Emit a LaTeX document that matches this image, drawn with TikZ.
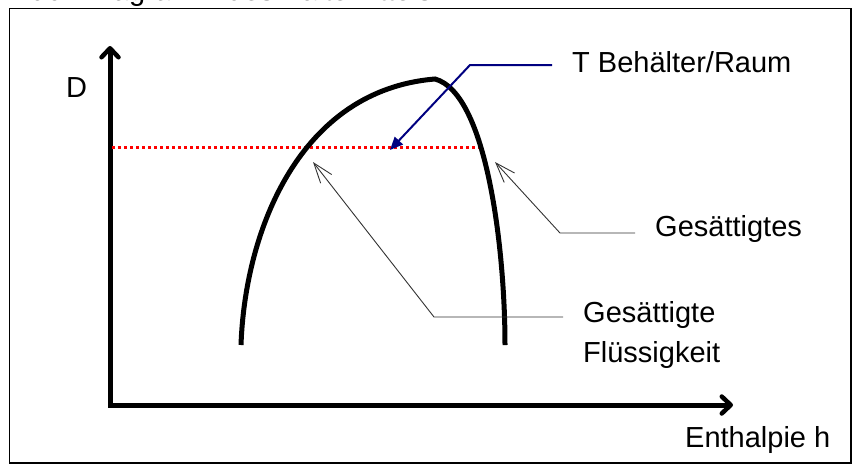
\documentclass[tikz,border=0pt]{standalone}
\usepackage{fontspec}
\setmainfont{Liberation Sans}
\usetikzlibrary{arrows.meta}
\definecolor{navyblue}{RGB}{0,0,128}
\begin{document}
\begin{tikzpicture}[x=1pt,y=-1pt,
  lbl/.style={font=\fontsize{29}{40}\selectfont, inner sep=0pt, anchor=base west, align=left},
  axisline/.style={line width=5pt, line join=miter,
    {Straight Barb[length=9pt,width=17pt,line width=4.5pt,round]}-{Straight Barb[length=9pt,width=17pt,line width=4.5pt,round]}},
  dome/.style={line width=5pt},
  level/.style={red, line width=3pt, dash pattern=on 3pt off 3pt},
  tcallout/.style={navyblue, line width=2pt, -{Triangle[length=13pt,width=11pt]}},
  callout/.style={black!80, line width=0.9pt, -{Straight Barb[length=20pt,width=14pt,line width=0.9pt]}},
  frame/.style={line width=1.5pt}]
  \clip (0,0) rectangle (860,469);
  % frame
  \draw[frame] (9.5,8.5) rectangle (851,463);
  % clipped title
  \node[lbl] (title) at (0,0.2) {Druck-Diagramm des Kältemittels};
  % axes
  \coordinate (ytop) at (110,46);
  \coordinate (orig) at (110,405);
  \coordinate (xend) at (733,405);
  \draw[axisline] (ytop) -- (orig) -- (xend);
  \node[lbl] (dlab) at (66,97) {D};
  \node[lbl] (hlab) at (685,447) {Enthalpie h};
  % level line
  \coordinate (lvlA) at (112,147);
  \coordinate (lvlB) at (482,147);
  \draw[level] (lvlA) -- (lvlB);
  % saturation dome
  \coordinate (domeL) at (241,345);
  \coordinate (domeTop) at (435,79);
  \coordinate (domeR) at (505,345);
  \draw[dome] (domeL) .. controls (245,230) and (300,90) .. (domeTop)
              .. controls (487,93) and (505,250) .. (domeR);
  % T label and callout
  \node[lbl] (tlab) at (572,72) {T Behälter/Raum};
  \coordinate (tstart) at (552,65);
  \coordinate (tknee) at (470,65);
  \coordinate (ttip) at (390,150);
  \draw[tcallout] (tstart) -- (tknee) -- (ttip);
  % saturated vapour
  \node[lbl] (glab) at (655,236) {Gesättigtes};
  \coordinate (gstart) at (635,233);
  \coordinate (gknee) at (560,233);
  \coordinate (gtip) at (495,162);
  \draw[callout] (gstart) -- (gknee) -- (gtip);
  % saturated liquid
  \node[lbl] (flab) at (583,362) {Gesättigte\\Flüssigkeit};
  \coordinate (fstart) at (563,317);
  \coordinate (fknee) at (434,317);
  \coordinate (ftip) at (313,162);
  \draw[callout] (fstart) -- (fknee) -- (ftip);
\end{tikzpicture}
\end{document}
